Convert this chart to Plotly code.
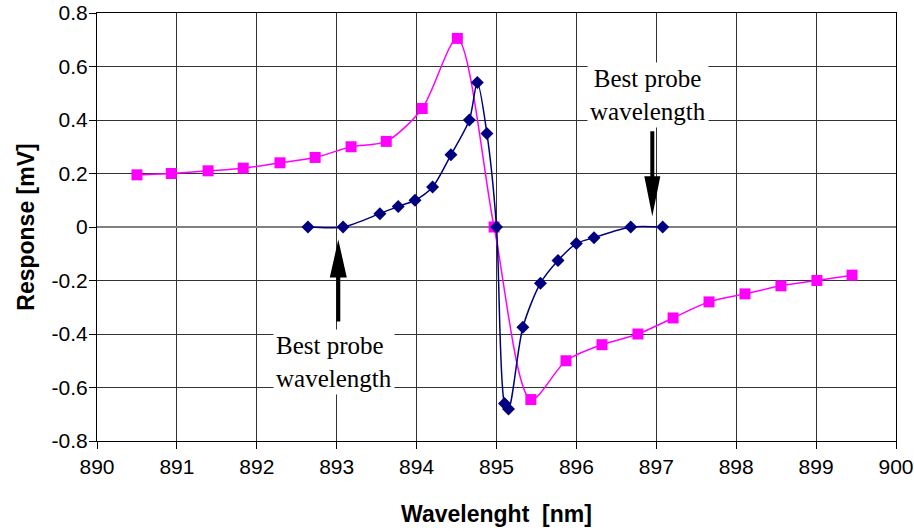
import plotly.graph_objects as go

# ---- data ----
magenta_x = [890.50, 890.93, 891.39, 891.83, 892.29, 892.73, 893.18, 893.62, 894.07, 894.51,
             894.97, 895.43, 895.87, 896.32, 896.77, 897.21, 897.66, 898.11, 898.56, 899.01, 899.45]
magenta_y = [0.195, 0.20, 0.21, 0.22, 0.24, 0.26, 0.30, 0.32, 0.443, 0.705,
             0.0, -0.645, -0.50, -0.44, -0.40, -0.34, -0.28, -0.25, -0.22, -0.20, -0.18]

blue_x = [892.64, 893.08, 893.54, 893.77, 893.98, 894.20, 894.43, 894.66, 894.76, 894.88,
          895.00, 895.10, 895.15, 895.33, 895.55, 895.77, 896.00, 896.22, 896.68, 897.08]
blue_y = [0.0, 0.0, 0.05, 0.077, 0.10, 0.15, 0.27, 0.40, 0.54, 0.35,
          0.0, -0.66, -0.68, -0.375, -0.21, -0.125, -0.062, -0.04, 0.0, 0.0]

x_ticks = [890, 891, 892, 893, 894, 895, 896, 897, 898, 899, 900]
y_ticks = [0.8, 0.6, 0.4, 0.2, 0, -0.2, -0.4, -0.6, -0.8]
y_tick_labels = ["0.8", "0.6", "0.4", "0.2", "0", "-0.2", "-0.4", "-0.6", "-0.8"]

note_text = "Best probe<br>wavelength"

fig = go.Figure()

fig.add_trace(go.Scatter(
    x=magenta_x, y=magenta_y, mode="lines+markers",
    line=dict(color="#FF00FF", width=1.5, shape="spline", smoothing=0.8),
    marker=dict(symbol="square", size=11, color="#FF00FF"),
    showlegend=False))

fig.add_trace(go.Scatter(
    x=blue_x, y=blue_y, mode="lines+markers",
    line=dict(color="#000080", width=1.5, shape="spline", smoothing=0.8),
    marker=dict(symbol="diamond", size=10, color="#000080"),
    showlegend=False))

# arrows (pixel-sized shapes anchored at the arrow tips)
up_arrow = "M0,0 L8.5,-38 L2,-38 L2,-82 L-2,-82 L-2,-38 L-8.5,-38 Z"
down_arrow = "M0,0 L8,40 L2,40 L2,85 L-2,85 L-2,40 L-8,40 Z"
fig.add_shape(type="path", path=up_arrow, xref="x", yref="y",
              xsizemode="pixel", ysizemode="pixel", xanchor=893.02, yanchor=-0.047,
              fillcolor="black", line=dict(width=0), layer="above")
fig.add_shape(type="path", path=down_arrow, xref="x", yref="y",
              xsizemode="pixel", ysizemode="pixel", xanchor=896.95, yanchor=0.04,
              fillcolor="black", line=dict(width=0), layer="above")

fig.add_annotation(x=892.2, y=-0.503, xref="x", yref="y", text=note_text,
                   showarrow=False, xanchor="left", yanchor="middle", align="left",
                   font=dict(family="Liberation Serif", size=25, color="black"),
                   bgcolor="white", borderpad=2)
fig.add_annotation(x=896.13, y=0.495, xref="x", yref="y", text=note_text,
                   showarrow=False, xanchor="left", yanchor="middle", align="center",
                   font=dict(family="Liberation Serif", size=25, color="black"),
                   bgcolor="white", borderpad=2)

fig.update_layout(
    width=914, height=531,
    margin=dict(l=97, r=18, t=13, b=90, autoexpand=False),
    plot_bgcolor="white", paper_bgcolor="white",
    font=dict(family="Liberation Sans", color="black"),
)

fig.update_xaxes(
    range=[890, 900], tickvals=x_ticks, ticktext=[str(v) for v in x_ticks],
    showgrid=True, gridcolor="#333333", gridwidth=1,
    showline=True, linecolor="black", linewidth=1, mirror=True,
    ticks="outside", ticklen=7, tickcolor="black",
    tickfont=dict(size=21), zeroline=False, automargin=False,
    title=dict(text="<b>Wavelenght  [nm]</b>", font=dict(size=23), standoff=28),
)
fig.update_yaxes(
    range=[-0.8, 0.8], tickvals=y_ticks, ticktext=y_tick_labels,
    showgrid=True, gridcolor="#333333", gridwidth=1,
    showline=True, linecolor="black", linewidth=1, mirror=True,
    ticks="outside", ticklen=7, tickcolor="black",
    tickfont=dict(size=21), automargin=False, ticklabelstandoff=-3,
    zeroline=True, zerolinecolor="#808080", zerolinewidth=2,
    title=dict(text="<b>Response [mV]</b>", font=dict(size=23), standoff=10),
)

fig.write_html("out.html", config={"displayModeBar": False},
               post_script="document.body.style.margin='0';document.body.style.overflow='hidden';")
